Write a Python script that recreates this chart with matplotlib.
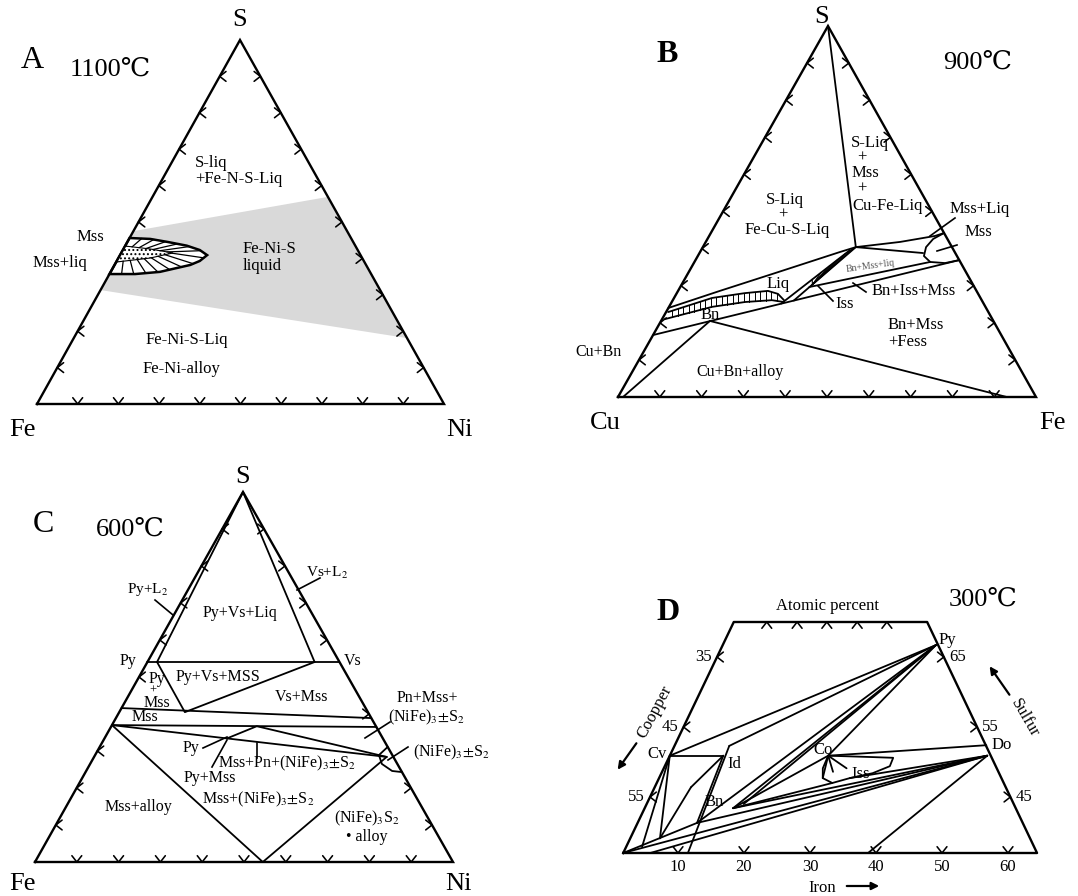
import numpy as np
import matplotlib
matplotlib.use("Agg")
import matplotlib.pyplot as plt
from matplotlib.patches import Polygon

plt.rcParams['font.family'] = ['Liberation Serif', 'DejaVu Serif']
plt.rcParams['mathtext.fontset'] = 'stix'
plt.rcParams['hatch.linewidth'] = 0.9

# ------------------------------------------------------------------
# phase boundaries
# ternary panels: (top component %, right-hand component %)
# ------------------------------------------------------------------

# A  Fe-Ni-S, 1100 C    (S %, Ni %)
a_liquid = [(47.5, 0), (56.9, 43.1), (18.1, 81.9), (31.3, 0)]
a_mss_outer = [(45.6, 0), (45.35, 5.2), (44.5, 10.0), (43.5, 15.1), (42.3, 18.9),
               (40.9, 21.4), (39.3, 20.4), (38.2, 18.6), (36.3, 12.1), (35.7, 6.3), (35.7, 0)]
a_mss_inner = [(43.4, 0), (42.6, 6.5), (41.5, 12.7), (40.1, 7.8), (39.0, 0)]

# B  Cu-Fe-S, 900 C    (S %, Fe %)
b_s_tie = [(100, 0), (40.4, 36.6)]
b_liq_top = [(24.0, 0), (28.6, 10.0), (33.4, 20.8), (36.9, 28.6), (39.1, 33.5),
             (40.4, 36.6), (41.8, 46.5), (43.4, 54.0), (44.2, 55.8)]
b_mss_tie = [(40.4, 36.6), (38.8, 53.5)]
b_mss = [(44.2, 55.8), (42.6, 54.0), (40.4, 53.4), (38.0, 54.1), (36.4, 56.4),
         (36.1, 60.1), (36.9, 63.1)]
b_bn_line = [(16.7, 0), (36.9, 63.1)]
b_bn_cu = [(20.5, 11.7), (0, 1.2)]
b_bn_fe = [(20.5, 11.7), (0, 93.0)]
b_iss_left = [(25.2, 26.4), (39.6, 35.6)]
b_iss_right = [(26.0, 29.0), (40.4, 36.6)]
b_mss_liq_low = [(29.65, 30.9), (36.4, 56.4)]
b_bn_band_top = [(22.9, 0.5), (26.7, 9.1), (28.0, 16.3), (28.6, 21.5), (27.8, 24.3), (26.1, 26.6)]
b_bn_band_bot = [(21.0, 0.7), (24.3, 10.3), (25.6, 17.5), (26.1, 23.7), (25.6, 26.8)]

# C  Fe-Ni-S, 600 C    (S %, Ni %)
c_py_vs = [(54.05, 0), (54.05, 45.95)]
c_s_py = [(100, 0), (54.05, 2.3)]
c_s_vs = [(100, 0), (54.05, 40.0)]
c_py_mss = [(54.05, 2.3), (40.5, 15.7), (54.05, 40.0)]
c_mss_top = [(41.6, 0), (38.9, 61.1)]
c_mss_bot = [(37.0, 0), (36.5, 63.5)]
c_mss_pn = [(37.0, 0), (28.4, 70.0)]
c_py_kink = [(33.4, 29.3), (36.7, 34.8), (28.4, 70.0)]
c_alloy = [(37.0, 0), (0, 54.5), (28.4, 70.0)]
c_hz_loop = [(31.1, 68.9), (28.9, 67.9), (26.5, 69.8), (24.6, 73.2), (24.3, 75.7)]

# D  Cu-Fe-S, 300 C    (Fe %, S %)
d_frame = [(1.7, 37), (1.7, 70), (31.0, 70), (64.4, 37)]
d_nodes = {
    'C0': (1.7, 37.0), 'Cv': (1.7, 50.9), 'Id': (9.8, 50.9), 'IdT': (10.0, 52.3),
    'IdB': (11.5, 37.0), 'Py': (34.0, 66.7), 'Co': (25.7, 50.9), 'Do': (48.9, 52.4),
    'Po': (49.8, 50.9), 'B1': (10.7, 41.3), 'B2': (15.1, 43.4), 'B2b': (16.4, 44.0),
    'B3': (6.2, 39.1), 'B4': (4.1, 37.9), 'BT': (5.8, 37.0), 'F39': (38.8, 37.0),
    'Bc': (7.2, 46.4), 'L1': (28.3, 47.0), 'L2': (30.6, 47.7),
}
d_tielines = [('Cv', 'Py'), ('IdT', 'Py'), ('Cv', 'Id'), ('IdT', 'IdB'), ('Cv', 'B4'),
              ('Cv', 'B3'), ('Id', 'Bc'), ('Bc', 'B3'), ('Id', 'B1'), ('Py', 'B1'),
              ('Py', 'B2'), ('Py', 'B2b'), ('Py', 'Co'), ('B2', 'Co'), ('B2', 'L1'),
              ('B2', 'Po'), ('B1', 'Po'), ('C0', 'B1'), ('C0', 'Po'), ('BT', 'Po'),
              ('F39', 'Po'), ('Co', 'Do'), ('L2', 'Po')]
d_iss_loop = [(25.7, 50.9), (32.6, 50.7), (35.7, 50.6), (35.8, 49.4), (33.7, 48.4),
              (30.6, 47.7), (28.3, 47.0), (26.5, 47.7), (25.8, 49.1), (25.7, 50.9)]
d_co_star = [(26.5, 47.7), (27.6, 48.6), (29.4, 49.1)]
d_fe_ticks = [10, 20, 30, 40, 50, 60]
d_top_ticks = [6.7, 11.3, 15.8, 20.4, 24.9]
d_side_ticks = [65, 55, 45]
d_cu_labels = ['35', '45', '55']
d_s_labels = ['65', '55', '45']

TICKS = [10, 20, 30, 40, 50, 60, 70, 80, 90]

# ------------------------------------------------------------------
# layout: triangle corners in figure pixels (bottom-left, bottom-right, top)
# ------------------------------------------------------------------
FRAME_A = [(37, 404), (444, 404), (240, 40)]
FRAME_B = [(618, 397), (1036, 397), (828, 26)]
FRAME_C = [(35, 862), (453, 862), (243, 492)]
D_X0, D_FE, D_SK, D_S0, D_Y0, D_SY = 612, 6.6, 3.35, 37, 853, 7.0

FS = 12      # region labels
FSC = 11.5   # region labels, panel C

fig = plt.figure(figsize=(10.78, 8.96), dpi=100)
ax = fig.add_axes([0, 0, 1, 1])
ax.set_xlim(0, 1078)
ax.set_ylim(896, 0)
ax.axis('off')

LW = 1.3
LWF = 1.7


def tern(frame, pts):
    bl, br, tp = [np.array(v, float) for v in frame]
    p = np.array(pts, float).reshape(-1, 2) / 100.0
    s, r = p[:, 0:1], p[:, 1:2]
    xy = bl * (1 - s - r) + br * r + tp * s
    return xy[:, 0], xy[:, 1]


def trap(pts):
    p = np.array(pts, float).reshape(-1, 2)
    x = D_X0 + D_FE * p[:, 0] + D_SK * (p[:, 1] - D_S0)
    y = D_Y0 - D_SY * (p[:, 1] - D_S0)
    return x, y


def line(xy, lw=LW, z=3, **kw):
    ax.plot(xy[0], xy[1], color='k', lw=lw, solid_joinstyle='round',
            solid_capstyle='round', zorder=z, **kw)


def chevron(p, axis, size=8.0, spread=38):
    # small arrow-like tick: vertex on the edge, arms opening along `axis`
    d = np.asarray(axis, float)
    d /= np.hypot(*d)
    for a in (spread, -spread):
        c, s = np.cos(np.radians(a)), np.sin(np.radians(a))
        arm = np.array([c * d[0] - s * d[1], s * d[0] + c * d[1]]) * size
        ax.plot([p[0], p[0] + arm[0]], [p[1], p[1] + arm[1]], color='k', lw=1.15,
                solid_capstyle='round', zorder=4)


def triangle(frame, skip=((), (), ())):
    bl, br, tp = [np.array(v, float) for v in frame]
    ax.plot([bl[0], br[0], tp[0], bl[0]], [bl[1], br[1], tp[1], bl[1]],
            color='k', lw=LWF, solid_joinstyle='miter', zorder=5)
    axes_dir = [(1, 0), (-1, 0), (0, -1)]     # left edge, right edge, base
    for (p0, p1), d, sk in zip([(bl, tp), (tp, br), (br, bl)], axes_dir, skip):
        for k in TICKS:
            if k in sk:
                continue
            chevron(p0 + (p1 - p0) * k / 100, d)


def resample(x, y, n):
    d = np.r_[0, np.cumsum(np.hypot(np.diff(x), np.diff(y)))]
    t = np.linspace(0, d[-1], n)
    return np.interp(t, d, x), np.interp(t, d, y)


def put(labels):
    for x, y, s, size, kw in labels:
        ax.text(x, y, s, fontsize=size, ha=kw.get('ha', 'center'), va='center',
                rotation=kw.get('rot', 0), fontweight=kw.get('fw', 'normal'),
                color=kw.get('color', 'k'), zorder=6)


def leaders(segs):
    for (x0, y0), (x1, y1) in segs:
        ax.plot([x0, x1], [y0, y1], color='k', lw=1.2, zorder=6)


# ---------------- A ----------------
A = lambda pts: tern(FRAME_A, pts)
ax.add_patch(Polygon(np.column_stack(A(a_liquid)), closed=True, fc='#d9d9d9', ec='none', zorder=1))
ox, oy = A(a_mss_outer)
ax.add_patch(Polygon(np.column_stack([ox, oy]), closed=True, fc='white', ec='k', lw=1.8, zorder=2))
ix, iy = A(a_mss_inner)
ax.add_patch(Polygon(np.column_stack([ix, iy]), closed=True, fc='white', ec='k', lw=0.8,
                     hatch='....', zorder=3))
rox, roy = resample(ox, oy, 16)
rix, riy = resample(ix, iy, 16)
for k in range(1, 15):
    ax.plot([rix[k], rox[k]], [riy[k], roy[k]], color='k', lw=0.9, zorder=3)
triangle(FRAME_A, skip=((30, 40), (), ()))
put([
    (32, 61, 'A', 23, {}),
    (110, 70, '1100℃', 19, {}),
    (240, 20, 'S', 19, {}),
    (22, 430, 'Fe', 19, {}),
    (459, 430, 'Ni', 19, {}),
    (195, 163, 'S-liq', FS, {'ha': 'left'}),
    (195, 179, '+Fe-N-S-Liq', FS, {'ha': 'left'}),
    (77, 237, 'Mss', FS, {'ha': 'left'}),
    (33, 263, 'Mss+liq', FS, {'ha': 'left'}),
    (243, 249, 'Fe-Ni-S', FS, {'ha': 'left'}),
    (243, 266, 'liquid', FS, {'ha': 'left'}),
    (146, 340, 'Fe-Ni-S-Liq', FS, {'ha': 'left'}),
    (143, 369, 'Fe-Ni-alloy', FS, {'ha': 'left'}),
])

# ---------------- B ----------------
B = lambda pts: tern(FRAME_B, pts)
for seg in (b_s_tie, b_liq_top, b_mss_tie, b_bn_line, b_bn_cu, b_bn_fe,
            b_iss_left, b_iss_right, b_mss_liq_low, b_bn_band_top, b_bn_band_bot):
    line(B(seg))
line(B(b_mss))
# vertical hatching of the Bn band
tx, ty = B(b_bn_band_top)
bx, by = B(b_bn_band_bot)
for xh in np.arange(tx[0] + 4, bx[-1] - 3, 5.5):
    ax.plot([xh, xh], [np.interp(xh, tx, ty), np.interp(xh, bx, by)], color='k', lw=0.7, zorder=3)
# fan hatching of the Iss field
lx, ly = B(b_iss_left)
rx, ry = B(b_iss_right)
fx, fy = rx[0] + 0.3 * (rx[1] - rx[0]), ry[0] + 0.3 * (ry[1] - ry[0])
for t in (0.45, 0.58, 0.7, 0.82, 0.93):
    ax.plot([fx, lx[0] + t * (lx[1] - lx[0])], [fy, ly[0] + t * (ly[1] - ly[0])],
            color='k', lw=0.8, zorder=3)
for t in (0.5, 0.75):
    ax.plot([fx, lx[1] + t * (rx[1] - lx[1])], [fy, ly[1] + t * (ry[1] - ly[1])],
            color='k', lw=0.8, zorder=3)
triangle(FRAME_B, skip=((), (60,), ()))
put([
    (667, 55, 'B', 23, {'fw': 'bold'}),
    (978, 63, '900℃', 19, {}),
    (822, 17, 'S', 19, {}),
    (605, 423, 'Cu', 19, {}),
    (1052, 423, 'Fe', 19, {}),
    (870, 143, 'S-Liq', FS, {}),
    (862, 158, '+', FS, {}),
    (865, 173, 'Mss', FS, {}),
    (862, 189, '+', FS, {}),
    (888, 206, 'Cu-Fe-Liq', FS, {}),
    (785, 200, 'S-Liq', FS, {}),
    (783, 215, '+', FS, {}),
    (787, 230, 'Fe-Cu-S-Liq', FS, {}),
    (980, 209, 'Mss+Liq', FS, {}),
    (978, 232, 'Mss', FS, {}),
    (778, 284, 'Liq', FS, {}),
    (710, 315, 'Bn', FS, {}),
    (870, 266, 'Bn+Mss+liq', 7, {'rot': 8, 'color': '#555555'}),
    (845, 304, 'Iss', FS, {}),
    (914, 291, 'Bn+Iss+Mss', FS, {}),
    (888, 325, 'Bn+Mss', FS, {'ha': 'left'}),
    (888, 342, '+Fess', FS, {'ha': 'left'}),
    (599, 352, 'Cu+Bn', 11.5, {}),
    (740, 372, 'Cu+Bn+alloy', 11.5, {}),
])
leaders([((955, 218), (930, 236)), ((957, 245), (937, 251)),
         ((833, 301), (818, 286)), ((866, 292), (853, 283))])

# ---------------- C ----------------
C = lambda pts: tern(FRAME_C, pts)
for seg in (c_py_vs, c_s_py, c_s_vs, c_py_mss, c_mss_top, c_mss_bot, c_mss_pn,
            c_py_kink, c_alloy, c_hz_loop):
    line(C(seg))
triangle(FRAME_C, skip=((40,), (50, 70), ()))
put([
    (43, 525, 'C', 23, {}),
    (130, 530, '600℃', 19, {}),
    (243, 477, 'S', 19, {}),
    (22, 884, 'Fe', 19, {}),
    (458, 884, 'Ni', 19, {}),
    (148, 590, 'Py+L$_2$', 11, {}),
    (327, 573, 'Vs+L$_2$', 11, {}),
    (240, 613, 'Py+Vs+Liq', FSC, {}),
    (128, 661, 'Py', FSC, {}),
    (353, 661, 'Vs', FSC, {}),
    (218, 677, 'Py+Vs+MSS', FSC, {}),
    (157, 679, 'Py', FSC, {}),
    (153, 691, '+', 9, {}),
    (157, 703, 'Mss', FSC, {}),
    (302, 697, 'Vs+Mss', FSC, {}),
    (145, 717, 'Mss', FSC, {}),
    (427, 698, 'Pn+Mss+', FSC, {}),
    (426, 717, '(NiFe)$_3$$\\pm$S$_2$', FSC, {}),
    (451, 752, '(NiFe)$_3$$\\pm$S$_2$', FSC, {}),
    (191, 748, 'Py', FSC, {}),
    (287, 763, 'Mss+Pn+(NiFe)$_3$$\\pm$S$_2$', FSC, {}),
    (210, 778, 'Py+Mss', FSC, {}),
    (258, 799, 'Mss+(NiFe)$_3$$\\pm$S$_2$', FSC, {}),
    (138, 807, 'Mss+alloy', FSC, {}),
    (367, 818, '(NiFe)$_3$S$_2$', FSC, {}),
    (367, 837, '• alloy', FSC, {}),
])
leaders([((155, 600), (173, 615)), ((320, 578), (297, 590)), ((390, 722), (365, 738)),
         ((408, 747), (388, 760)), ((203, 748), (227, 737)), ((212, 767), (227, 740)),
         ((257, 743), (257, 758))])

# ---------------- D ----------------
fx_, fy_ = trap(d_frame)
ax.plot(np.r_[fx_, fx_[0]], np.r_[fy_, fy_[0]], color='k', lw=LWF, zorder=5)
for a, b in d_tielines:
    line(trap([d_nodes[a], d_nodes[b]]))
line(trap(d_iss_loop))
for p in d_co_star:
    line(trap([d_nodes['Co'], p]))
bl, tl, tr, br = [np.array(v) for v in zip(fx_, fy_)]
for fe in d_fe_ticks:
    x, y = trap([(fe, D_S0)])
    chevron(np.array([x[0], y[0]]), (0, -1))
    ax.text(x[0], y[0] + 14, str(fe), fontsize=12, ha='center', va='center')
for fe in d_top_ticks:
    x, y = trap([(fe, 70)])
    chevron(np.array([x[0], y[0]]), (0, 1))
for s, lab_cu, lab_s in zip(d_side_ticks, d_cu_labels, d_s_labels):
    x, y = trap([(d_frame[0][0], s)])
    p = np.array([x[0], y[0]])
    chevron(p, (1, 0))
    ax.text(p[0] - 5, p[1], lab_cu, fontsize=12, ha='right', va='center')
    t = (70 - s) / (70 - D_S0)
    q = tr + (br - tr) * t
    chevron(q, (-1, 0))
    ax.text(q[0] + 5, q[1], lab_s, fontsize=12, ha='left', va='center')
put([
    (668, 613, 'D', 23, {'fw': 'bold'}),
    (828, 606, 'Atomic percent', 12, {}),
    (983, 600, '300℃', 19, {}),
    (947, 640, 'Py', FS, {}),
    (1002, 745, 'Do', FS, {}),
    (657, 754, 'Cv', FS, {}),
    (734, 764, 'Id', FS, {}),
    (823, 750, 'Co', FS, {}),
    (861, 774, 'Iss', FS, {}),
    (714, 802, 'Bn', FS, {}),
    (822, 888, 'Iron', 12, {}),
    (655, 712, 'Coopper', 12, {'rot': 62}),
    (1025, 718, 'Sulfur', 12, {'rot': -60}),
])
arrow = dict(arrowstyle='-|>', lw=1.6, color='k', mutation_scale=11)
ax.annotate('', xy=(882, 886), xytext=(844, 886), arrowprops=arrow)
ax.annotate('', xy=(616, 772), xytext=(638, 741), arrowprops=arrow)
ax.annotate('', xy=(988, 664), xytext=(1011, 697), arrowprops=arrow)

fig.savefig('out.png', dpi=100)
